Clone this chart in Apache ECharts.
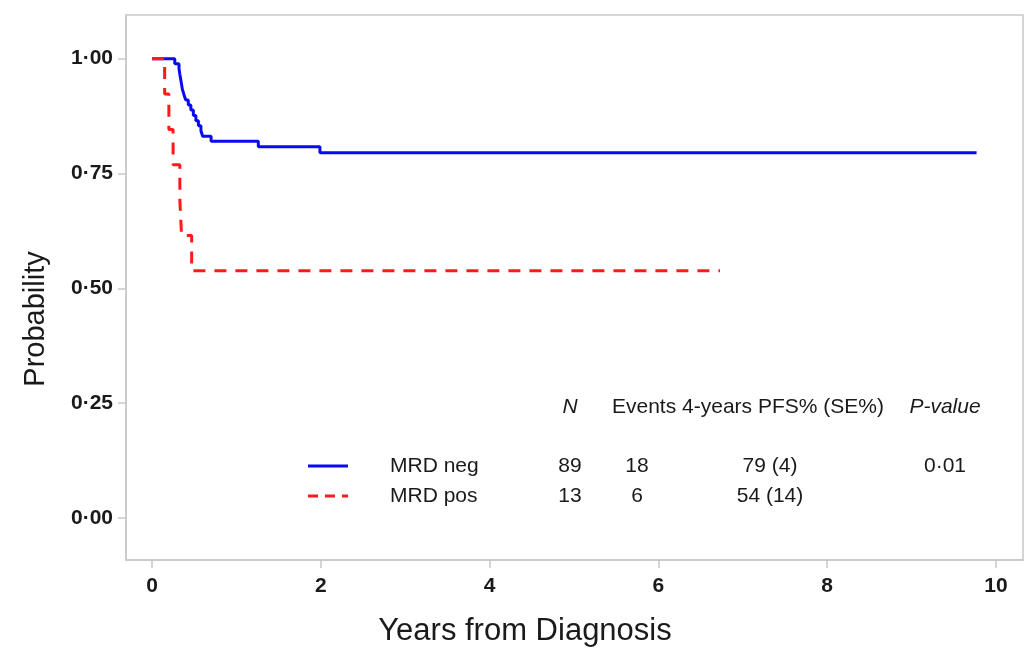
<!DOCTYPE html>
<html>
<head>
<meta charset="utf-8">
<script src="https://cdn.jsdelivr.net/npm/echarts@6/dist/echarts.min.js"></script>
<style>
  html, body { margin: 0; padding: 0; background: #fff; }
  #chart { width: 1027px; height: 649px; }
</style>
</head>
<body>
<div id="chart"></div>
<script>
// Kaplan-Meier steps: [years, probability]
const mrdNeg = [
  [0, 1], [0.27, 0.989], [0.32, 0.978], [0.33, 0.966], [0.34, 0.955],
  [0.35, 0.944], [0.36, 0.933], [0.38, 0.921], [0.40, 0.910], [0.43, 0.899],
  [0.46, 0.888], [0.49, 0.876], [0.52, 0.865], [0.55, 0.854], [0.58, 0.843],
  [0.60, 0.831], [0.70, 0.820], [1.26, 0.808], [1.99, 0.795], [9.77, 0.795]
];
const mrdPos = [
  [0, 1], [0.15, 0.923], [0.20, 0.846], [0.25, 0.769], [0.33, 0.692],
  [0.35, 0.615], [0.47, 0.538], [6.73, 0.538]
];

const xTicks = [0, 2, 4, 6, 8, 10];
const yTicks = [0, 0.25, 0.5, 0.75, 1];

// table under the curves
const groups = ["MRD neg", "MRD pos"];
const nValues = ["89", "13"];
const eventValues = ["18", "6"];
const pfsValues = ["79 (4)", "54 (14)"];
const pValue = "0·01";

const blue = "#0a0af0";
const red = "#ff1a1a";
const dash = [12, 9];
const axisGrey = "#c8c8c8";
const ink = "#1a1a1a";
const tableFont = "21px 'Liberation Sans', Arial, sans-serif";
const tableItalic = "italic 21px 'Liberation Sans', Arial, sans-serif";

const chart = echarts.init(document.getElementById("chart"));

const txt = (x, y, text, extra) => ({
  type: "text",
  x: x,
  y: y,
  style: Object.assign({
    text: text,
    fill: ink,
    font: tableFont,
    align: "center",
    verticalAlign: "middle"
  }, extra || {})
});

const rowY = [466, 496];
const graphics = [
  // axis titles sit off-centre in the original, so they are placed by hand
  txt(525, 631, "Years from Diagnosis", { font: "31px 'Liberation Sans', Arial, sans-serif" }),
  Object.assign(txt(0, 0, "Probability", { font: "29px 'Liberation Sans', Arial, sans-serif" }),
    { x: 36, y: 319, rotation: Math.PI / 2 }),
  txt(570, 407, "N", { font: tableItalic }),
  txt(612, 407, "Events 4-years PFS% (SE%)", { align: "left" }),
  txt(945, 407, "P-value", { font: tableItalic }),
  txt(945, rowY[0], pValue)
];
groups.forEach((g, i) => {
  graphics.push({
    type: "line",
    shape: { x1: 308, y1: rowY[i], x2: 348, y2: rowY[i] },
    style: { stroke: i === 0 ? blue : red, lineWidth: 3, lineDash: i === 0 ? null : [10, 7] }
  });
  graphics.push(txt(390, rowY[i], g, { align: "left" }));
  graphics.push(txt(570, rowY[i], nValues[i]));
  graphics.push(txt(637, rowY[i], eventValues[i]));
  graphics.push(txt(770, rowY[i], pfsValues[i]));
});

chart.setOption({
  animation: false,
  backgroundColor: "#fff",
  grid: {
    left: 126, right: 4, top: 15, bottom: 89,
    outerBoundsMode: "none",
    containLabel: false,
    show: true, borderColor: axisGrey, borderWidth: 1.5
  },
  xAxis: {
    type: "value",
    min: -0.308,
    max: 10.32,
    axisLine: { show: true, onZero: false, lineStyle: { color: axisGrey, width: 1.5 } },
    axisTick: { show: true, length: 8, customValues: xTicks, lineStyle: { color: axisGrey, width: 1.5 } },
    axisLabel: {
      customValues: xTicks, margin: 16,
      fontSize: 21, fontWeight: "bold", color: ink, fontFamily: "Liberation Sans"
    },
    splitLine: { show: false }
  },
  yAxis: {
    type: "value",
    min: -0.0914,
    max: 1.095,
    axisLine: { show: true, onZero: false, lineStyle: { color: axisGrey, width: 1.5 } },
    axisTick: { show: true, length: 8, customValues: yTicks, lineStyle: { color: axisGrey, width: 1.5 } },
    axisLabel: {
      customValues: yTicks, margin: 13,
      fontSize: 21, fontWeight: "bold", color: ink, fontFamily: "Liberation Sans",
      formatter: (v) => v.toFixed(2).replace(".", "·")
    },
    splitLine: { show: false }
  },
  series: [
    {
      name: "MRD neg", type: "line", step: "end", data: mrdNeg,
      showSymbol: false, symbol: "none", z: 3,
      lineStyle: { color: blue, width: 3 }
    },
    {
      name: "MRD pos", type: "line", step: "end", data: mrdPos,
      showSymbol: false, symbol: "none", z: 4,
      lineStyle: { color: red, width: 3, type: dash }
    }
  ],
  graphic: graphics
});
</script>
</body>
</html>
